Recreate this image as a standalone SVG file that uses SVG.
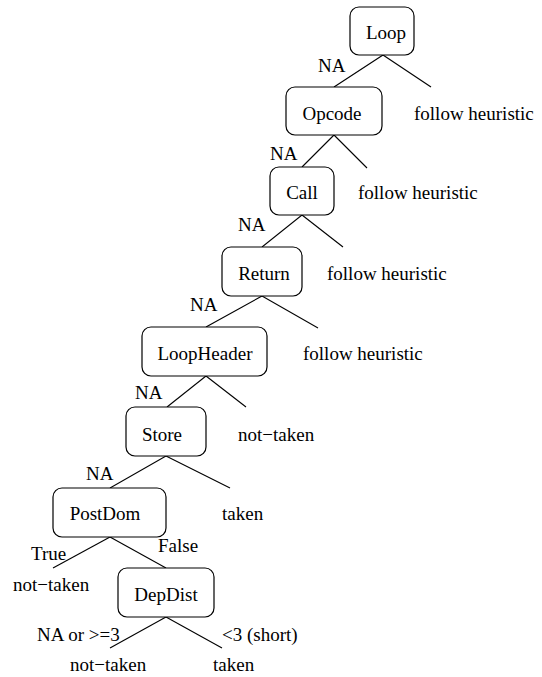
<svg xmlns="http://www.w3.org/2000/svg" width="542" height="677" viewBox="0 0 542 677">
<style>
rect.n{fill:#fff;stroke:#000;stroke-width:1.2}
text{font-family:"Liberation Serif","Times New Roman",serif;font-size:19px;fill:#000}
text.c{text-anchor:middle}
#edges line{stroke:#000;stroke-width:1.1}
</style>
<rect width="542" height="677" fill="#fff"/>
<g id="edges">
<line x1="383" y1="55" x2="334" y2="87"/>
<line x1="383" y1="55" x2="431" y2="87"/>
<line x1="334" y1="135" x2="302" y2="167"/>
<line x1="334" y1="135" x2="367" y2="168"/>
<line x1="302" y1="215" x2="262" y2="247"/>
<line x1="302" y1="215" x2="343" y2="247"/>
<line x1="262" y1="296" x2="206" y2="327"/>
<line x1="262" y1="296" x2="318" y2="328"/>
<line x1="206" y1="376" x2="167" y2="407"/>
<line x1="206" y1="376" x2="246" y2="407"/>
<line x1="166" y1="456" x2="110" y2="488"/>
<line x1="166" y1="456" x2="230" y2="488"/>
<line x1="110" y1="537" x2="53" y2="568"/>
<line x1="110" y1="537" x2="166" y2="568"/>
<line x1="166" y1="617" x2="110" y2="648"/>
<line x1="166" y1="617" x2="222" y2="648"/>
</g>
<g id="loop"><rect class="n" x="350" y="7" width="64" height="48" rx="9"/><text class="c" x="386" y="39">Loop</text></g>
<g id="opcode"><rect class="n" x="286" y="87" width="96" height="48" rx="9"/><text class="c" x="332" y="120">Opcode</text></g>
<g id="call"><rect class="n" x="270" y="167" width="64" height="48" rx="9"/><text class="c" x="302" y="199">Call</text></g>
<g id="return"><rect class="n" x="222" y="247" width="80" height="49" rx="9"/><text class="c" x="264" y="280">Return</text></g>
<g id="loopheader"><rect class="n" x="142" y="327" width="125" height="49" rx="9"/><text class="c" x="205" y="360">LoopHeader</text></g>
<g id="store"><rect class="n" x="126" y="407" width="80" height="49" rx="9"/><text class="c" x="162" y="441">Store</text></g>
<g id="postdom"><rect class="n" x="53" y="488" width="113" height="49" rx="9"/><text class="c" x="105" y="520">PostDom</text></g>
<g id="depdist"><rect class="n" x="118" y="568" width="96" height="49" rx="9"/><text class="c" x="166" y="601">DepDist</text></g>
<g id="labels">
<text x="318" y="72">NA</text>
<text x="414" y="120">follow heuristic</text>
<text x="270" y="160">NA</text>
<text x="358" y="199">follow heuristic</text>
<text x="238" y="231">NA</text>
<text x="327" y="280">follow heuristic</text>
<text x="190" y="311">NA</text>
<text x="303" y="360">follow heuristic</text>
<text x="135" y="399">NA</text>
<text x="238" y="441">not−taken</text>
<text x="86" y="480">NA</text>
<text x="222" y="520">taken</text>
<text x="31" y="560">True</text>
<text x="158" y="552">False</text>
<text x="13" y="591">not−taken</text>
<text x="37" y="641">NA or &gt;=3</text>
<text x="222" y="641">&lt;3 (short)</text>
<text x="70" y="671">not−taken</text>
<text x="213" y="671">taken</text>
</g>
</svg>
